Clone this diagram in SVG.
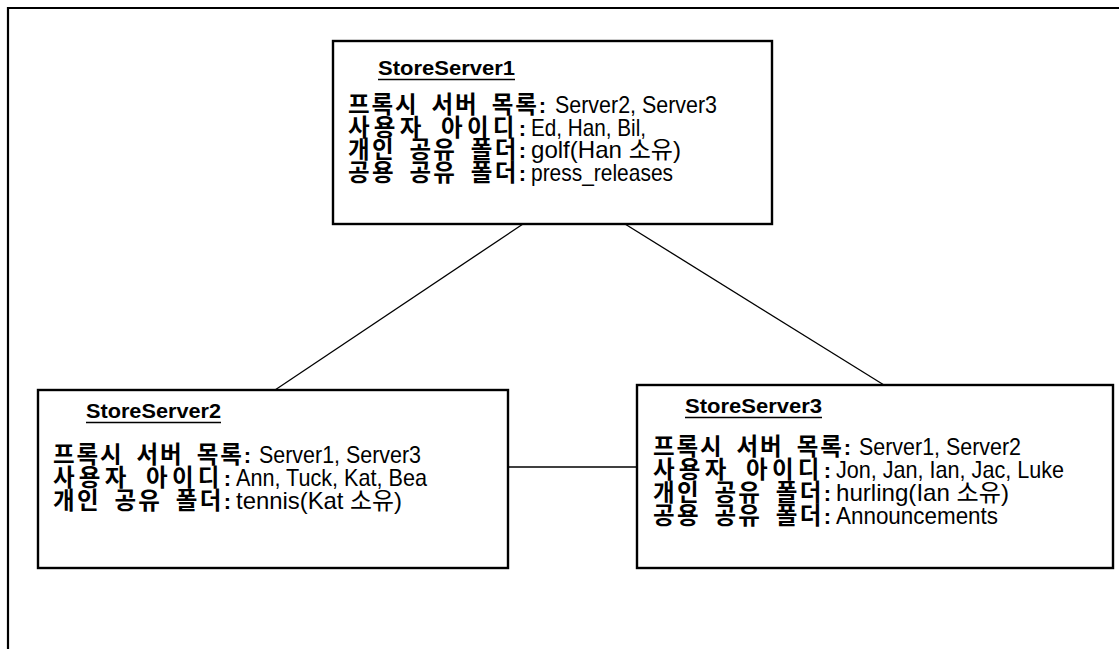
<svg xmlns="http://www.w3.org/2000/svg" width="1119" height="649" viewBox="0 0 1119 649">
<style>
.frame{fill:none;stroke:#000;stroke-width:2.2}
.box{fill:#fff;stroke:#000;stroke-width:2.4}
.conn{fill:none;stroke:#000;stroke-width:1.3}
.ul{stroke:#000;stroke-width:1.5}
.title{font-family:"Liberation Sans","Noto Sans CJK KR",sans-serif;font-weight:bold;font-size:20px;fill:#000}
.lab{font-family:"Noto Sans CJK KR","Liberation Sans",sans-serif;font-weight:bold;font-size:23.5px;word-spacing:6px;fill:#000}
.col{font-family:"Liberation Sans",sans-serif;font-weight:bold;font-size:22px}
.val{font-family:"Liberation Sans","Noto Sans CJK KR",sans-serif;font-size:24px;fill:#000}
</style>
<rect width="1119" height="649" fill="#fff"/>
<path class="frame" d="M8,649 V8 H1119"/>
<g id="connectors">
<line class="conn" x1="523" y1="224" x2="275" y2="390"/>
<line class="conn" x1="625" y1="224" x2="884" y2="385"/>
<line class="conn" x1="508" y1="467" x2="637" y2="467"/>
</g>
<g id="storeserver1">
<rect class="box" x="333" y="41" width="439" height="183"/>
<text class="title" x="378" y="75" textLength="137" lengthAdjust="spacingAndGlyphs">StoreServer1</text>
<line class="ul" x1="378" y1="79.5" x2="515" y2="79.5"/>
<text class="lab" x="348" y="113" textLength="198" lengthAdjust="spacing">프록시 서버 목록<tspan class="col">:</tspan></text>
<text class="val" x="555" y="113" textLength="162" lengthAdjust="spacingAndGlyphs">Server2, Server3</text>
<text class="lab" x="348" y="136" textLength="178" lengthAdjust="spacing">사용자 아이디<tspan class="col">:</tspan></text>
<text class="val" x="531" y="136" textLength="115" lengthAdjust="spacingAndGlyphs">Ed, Han, Bil,</text>
<text class="lab" x="348" y="158" textLength="178" lengthAdjust="spacing">개인 공유 폴더<tspan class="col">:</tspan></text>
<text class="val" x="531" y="158" textLength="150" lengthAdjust="spacingAndGlyphs">golf(Han 소유)</text>
<text class="lab" x="348" y="181" textLength="178" lengthAdjust="spacing">공용 공유 폴더<tspan class="col">:</tspan></text>
<text class="val" x="531" y="181" textLength="142" lengthAdjust="spacingAndGlyphs">press_releases</text>
</g>
<g id="storeserver2">
<rect class="box" x="38" y="390" width="470" height="178"/>
<text class="title" x="86" y="418" textLength="135" lengthAdjust="spacingAndGlyphs">StoreServer2</text>
<line class="ul" x1="86" y1="422.5" x2="221" y2="422.5"/>
<text class="lab" x="53" y="463" textLength="198" lengthAdjust="spacing">프록시 서버 목록<tspan class="col">:</tspan></text>
<text class="val" x="259" y="463" textLength="162" lengthAdjust="spacingAndGlyphs">Server1, Server3</text>
<text class="lab" x="53" y="486" textLength="178" lengthAdjust="spacing">사용자 아이디<tspan class="col">:</tspan></text>
<text class="val" x="236" y="486" textLength="191" lengthAdjust="spacingAndGlyphs">Ann, Tuck, Kat, Bea</text>
<text class="lab" x="53" y="509" textLength="178" lengthAdjust="spacing">개인 공유 폴더<tspan class="col">:</tspan></text>
<text class="val" x="236" y="509" textLength="166" lengthAdjust="spacingAndGlyphs">tennis(Kat 소유)</text>
</g>
<g id="storeserver3">
<rect class="box" x="637" y="385" width="476" height="183"/>
<text class="title" x="685" y="413" textLength="137" lengthAdjust="spacingAndGlyphs">StoreServer3</text>
<line class="ul" x1="685" y1="417.5" x2="822" y2="417.5"/>
<text class="lab" x="653" y="455" textLength="198" lengthAdjust="spacing">프록시 서버 목록<tspan class="col">:</tspan></text>
<text class="val" x="859" y="455" textLength="162" lengthAdjust="spacingAndGlyphs">Server1, Server2</text>
<text class="lab" x="653" y="478" textLength="178" lengthAdjust="spacing">사용자 아이디<tspan class="col">:</tspan></text>
<text class="val" x="836" y="478" textLength="228" lengthAdjust="spacingAndGlyphs">Jon, Jan, Ian, Jac, Luke</text>
<text class="lab" x="653" y="501" textLength="178" lengthAdjust="spacing">개인 공유 폴더<tspan class="col">:</tspan></text>
<text class="val" x="836" y="501" textLength="173" lengthAdjust="spacingAndGlyphs">hurling(Ian 소유)</text>
<text class="lab" x="653" y="524" textLength="178" lengthAdjust="spacing">공용 공유 폴더<tspan class="col">:</tspan></text>
<text class="val" x="836" y="524" textLength="162" lengthAdjust="spacingAndGlyphs">Announcements</text>
</g>
</svg>
